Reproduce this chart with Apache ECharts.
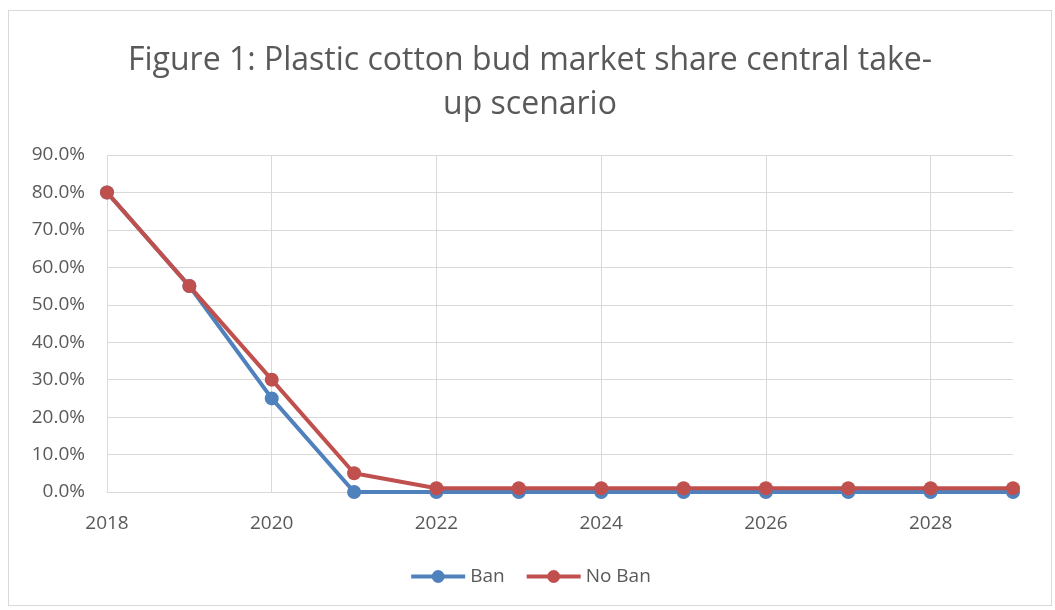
<!DOCTYPE html>
<html>
<head>
<meta charset="utf-8">
<script src="https://cdn.jsdelivr.net/npm/echarts@6/dist/echarts.min.js"></script>
<style>
  html, body { margin: 0; padding: 0; background: #fff; }
  #main { position: absolute; left: 8px; top: 10px; width: 1044px; height: 596px; border: 1px solid #d9d9d9; box-sizing: border-box; }
</style>
</head>
<body>
<div id="main"></div>
<script>
const years = ["2018", "2019", "2020", "2021", "2022", "2023", "2024", "2025", "2026", "2027", "2028", "2029"];
const ban = [80, 55, 25, 0, 0, 0, 0, 0, 0, 0, 0, 0];
const noBan = [80, 55, 30, 5, 1, 1, 1, 1, 1, 1, 1, 1];
const colors = ["#4F81BD", "#C0504D"];
const font = "Open Sans";

const chart = echarts.init(document.getElementById("main"));
chart.setOption({
  animation: false,
  color: colors,
  title: {
    text: "Figure 1: Plastic cotton bud market share central take-\nup scenario",
    left: "center",
    top: 28,
    padding: [0, 0, 0, 14],
    textStyle: {
      color: "#595959",
      fontFamily: font,
      fontWeight: "normal",
      fontSize: 32,
      lineHeight: 44,
      align: "center"
    }
  },
  grid: { left: 98, right: 38, top: 144, bottom: 113 },
  legend: {
    bottom: 14,
    left: "center",
    itemWidth: 54,
    itemHeight: 16,
    itemGap: 20,
    lineStyle: { width: 4 },
    textStyle: { color: "#595959", fontFamily: font, fontSize: 19 },
    data: ["Ban", "No Ban"]
  },
  xAxis: {
    type: "category",
    data: years,
    boundaryGap: false,
    axisLine: { lineStyle: { color: "#d9d9d9", width: 1 } },
    axisTick: { show: false },
    axisLabel: { interval: 1, color: "#595959", fontFamily: font, fontSize: 19, margin: 22 },
    splitLine: { show: true, interval: 1, lineStyle: { color: "#d9d9d9", width: 1 } }
  },
  yAxis: {
    type: "value",
    min: 0,
    max: 90,
    interval: 10,
    axisLine: { show: false },
    axisTick: { show: false },
    axisLabel: {
      color: "#595959",
      fontFamily: font,
      fontSize: 19,
      margin: 22,
      formatter: v => v.toFixed(1) + "%"
    },
    splitLine: { lineStyle: { color: "#d9d9d9", width: 1 } }
  },
  series: [
    {
      name: "Ban",
      type: "line",
      data: ban,
      symbol: "circle",
      symbolSize: 14,
      lineStyle: { width: 4 },
      itemStyle: { color: colors[0] }
    },
    {
      name: "No Ban",
      type: "line",
      data: noBan,
      symbol: "circle",
      symbolSize: 14,
      lineStyle: { width: 4 },
      itemStyle: { color: colors[1] }
    }
  ]
});
</script>
</body>
</html>
